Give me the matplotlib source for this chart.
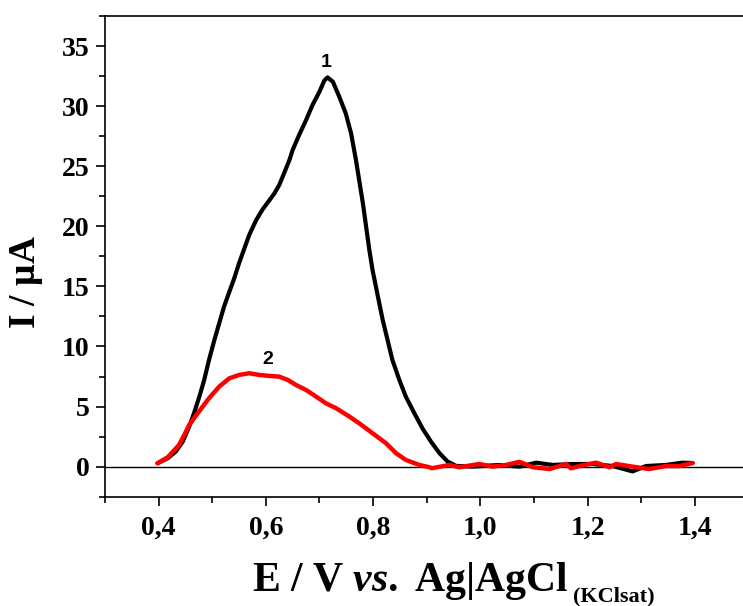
import matplotlib
matplotlib.use("Agg")
import matplotlib.pyplot as plt
from matplotlib.ticker import MultipleLocator, FuncFormatter

plt.rcParams['font.family'] = 'Liberation Serif'
plt.rcParams['font.weight'] = 'bold'
plt.rcParams['mathtext.fontset'] = 'custom'
plt.rcParams['mathtext.rm'] = 'Liberation Serif:bold'
plt.rcParams['mathtext.bf'] = 'Liberation Serif:bold'
plt.rcParams['mathtext.it'] = 'Liberation Serif:bold:italic'

# curve 1 (black)
E1 = [0.398, 0.417, 0.432, 0.445, 0.457, 0.466, 0.476, 0.485, 0.494, 0.504,
      0.513, 0.522, 0.532, 0.541, 0.550, 0.560, 0.569, 0.582, 0.594, 0.606,
      0.616, 0.625, 0.634, 0.644, 0.650, 0.662, 0.675, 0.687, 0.700, 0.709,
      0.715, 0.725, 0.737, 0.749, 0.759, 0.768, 0.774, 0.781, 0.787, 0.793,
      0.799, 0.809, 0.818, 0.827, 0.836, 0.849, 0.861, 0.877, 0.892, 0.908,
      0.924, 0.939, 0.955, 0.986, 1.035, 1.073, 1.104, 1.135, 1.172, 1.210,
      1.247, 1.284, 1.309, 1.346, 1.377, 1.396]
I1 = [0.28, 0.70, 1.25, 2.08, 3.33, 4.44, 5.83, 7.21, 8.88, 10.54,
      11.93, 13.31, 14.56, 15.67, 16.92, 18.17, 19.28, 20.52, 21.41, 22.13,
      22.74, 23.44, 24.41, 25.52, 26.35, 27.59, 28.84, 30.09, 31.20, 32.12,
      32.39, 32.03, 30.78, 29.40, 27.73, 25.52, 23.85, 21.91, 19.97, 18.03,
      16.36, 14.15, 12.20, 10.54, 8.88, 7.21, 5.83, 4.44, 3.19, 2.08,
      1.11, 0.42, 0.06, 0.0, 0.14, 0.0, 0.33, 0.14, 0.22, 0.22,
      0.05, -0.4, 0.05, 0.14, 0.33, 0.3]

# curve 2 (red)
E2 = [0.398, 0.417, 0.438, 0.448, 0.457, 0.476, 0.494, 0.513, 0.532, 0.550,
      0.569, 0.588, 0.606, 0.625, 0.641, 0.656, 0.675, 0.694, 0.712, 0.731,
      0.756, 0.774, 0.799, 0.824, 0.843, 0.861, 0.886, 0.905, 0.91, 0.942,
      0.961, 0.998, 1.023, 1.048, 1.073, 1.098, 1.129, 1.160, 1.169, 1.185,
      1.216, 1.241, 1.253, 1.284, 1.315, 1.346, 1.371, 1.396]
I2 = [0.28, 0.78, 1.80, 2.64, 3.47, 4.63, 5.69, 6.66, 7.35, 7.63,
      7.77, 7.63, 7.55, 7.49, 7.21, 6.80, 6.38, 5.82, 5.27, 4.86,
      4.16, 3.61, 2.78, 1.95, 1.11, 0.56, 0.14, -0.05, -0.13, 0.14,
      -0.05, 0.22, 0.0, 0.14, 0.4, -0.05, -0.2, 0.22, -0.14, 0.05,
      0.33, -0.05, 0.22, 0.0, -0.2, 0.05, 0.05, 0.3]

labels = ["1", "2"]
label_pos = [(0.712, 33.6), (0.603, 8.9)]

fig = plt.figure(figsize=(7.43, 6.06), dpi=100)
ax = fig.add_axes([0.1413, 0.1804, 0.866, 0.7932])

ax.axhline(0, color='black', lw=1.0, zorder=1)
ax.plot(E1, I1, color='black', lw=3, solid_capstyle='round', solid_joinstyle='round', zorder=2)
ax.plot(E2, I2, color='#ff0000', lw=3.2, solid_capstyle='round', solid_joinstyle='round', zorder=3)

for lab, (x, y) in zip(labels, label_pos):
    ax.text(x, y, lab, ha='center', va='center', fontsize=14,
            family='Liberation Sans', weight='bold')

ax.set_xlim(0.3, 1.5)
ax.set_ylim(-2.5, 37.5)
ax.xaxis.set_major_locator(MultipleLocator(0.2))
ax.xaxis.set_minor_locator(MultipleLocator(0.1))
ax.yaxis.set_major_locator(MultipleLocator(5))
ax.yaxis.set_minor_locator(MultipleLocator(2.5))
ax.xaxis.set_major_formatter(FuncFormatter(lambda v, p: f"{v:.1f}".replace('.', ',')))
ax.yaxis.set_major_formatter(FuncFormatter(lambda v, p: f"{v:.0f}"))

ax.spines['right'].set_visible(False)
for s in ['left', 'bottom', 'top']:
    ax.spines[s].set_linewidth(1.2)
ax.tick_params(which='major', direction='out', length=6.7, width=1.2, labelsize=20, pad=4.5)
ax.tick_params(which='minor', direction='out', length=4.3, width=1.2)
ax.tick_params(axis='x', pad=7)

# axis titles
fig.text(0.0357, 0.535, r"I / $\mathrm{\mu}$A", rotation=90, fontsize=27,
         weight='bold', ha='center', va='center')
main = fig.text(251.7 / 743, 15 / 606, r"E / V $\mathit{vs.}$ Ag|AgCl", fontsize=30,
                weight='bold', ha='left', va='baseline')
fig.canvas.draw()
bb = main.get_window_extent()
fig.text((bb.x1 + 5) / 743, 5 / 606, "(KClsat)", fontsize=16, weight='bold',
         ha='left', va='baseline')

fig.savefig("out.png", dpi=100)
